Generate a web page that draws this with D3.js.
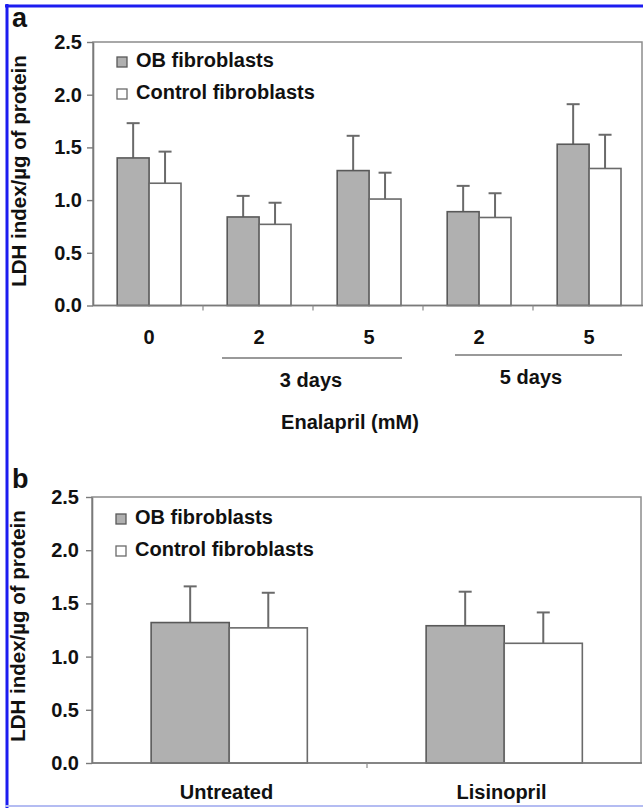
<!DOCTYPE html>
<html>
<head>
<meta charset="utf-8">
<script src="https://cdn.jsdelivr.net/npm/d3@7"></script>
<style>
  body { margin: 0; background: #fff; }
  text { font-family: "Liberation Sans", Arial, sans-serif; font-weight: bold; fill: #111; }
</style>
</head>
<body>
<div id="chart"></div>
<script>
// Data
const seriesNames = ["OB fibroblasts", "Control fibroblasts"];
const yTicks = [0, 0.5, 1.0, 1.5, 2.0, 2.5];

// panel a: enalapril dose (mM)
const enalaprilDoses = ["0", "2", "5", "2", "5"];
const enalaprilOB = [1.40, 0.84, 1.28, 0.89, 1.53];
const enalaprilOBErr = [0.33, 0.20, 0.33, 0.245, 0.38];
const enalaprilCtrl = [1.16, 0.77, 1.01, 0.835, 1.30];
const enalaprilCtrlErr = [0.30, 0.205, 0.25, 0.23, 0.32];
const dayGroups = ["3 days", "5 days"];
const dayGroupMembers = [[1, 2], [3, 4]];

// panel b: lisinopril
const treatments = ["Untreated", "Lisinopril"];
const lisinoprilOB = [1.32, 1.29];
const lisinoprilOBErr = [0.34, 0.32];
const lisinoprilCtrl = [1.27, 1.125];
const lisinoprilCtrlErr = [0.33, 0.29];

const width = 643, height = 808;
const fills = ["#b0b0b0", "#ffffff"];
const strokes = ["#595959", "#6a6a6a"];

const svg = d3.select("#chart").append("svg")
    .attr("width", width)
    .attr("height", height);

// blue frame round the figure
svg.append("line").attr("x1", 7).attr("x2", 7).attr("y1", 4).attr("y2", 808)
    .attr("stroke", "#1c1cf0").attr("stroke-width", 3);
svg.append("line").attr("x1", 5).attr("x2", 643).attr("y1", 6).attr("y2", 6)
    .attr("stroke", "#1c1cf0").attr("stroke-width", 3);
svg.append("line").attr("x1", 5).attr("x2", 643).attr("y1", 806).attr("y2", 806)
    .attr("stroke", "#b4bcf2").attr("stroke-width", 2);

function drawPanel(cfg) {
    const g = svg.append("g");

    const x = d3.scaleBand()
        .domain(d3.range(cfg.categories.length))
        .range([cfg.left, cfg.right]);

    const x1 = d3.scaleBand()
        .domain([0, 1])
        .range([x.bandwidth() * cfg.barStart, x.bandwidth() * cfg.barEnd]);

    const y = d3.scaleLinear()
        .domain([0, 2.5])
        .range([cfg.bottom, cfg.top]);

    // plot area border
    g.append("rect")
        .attr("x", cfg.left).attr("y", cfg.top)
        .attr("width", cfg.right - 1 - cfg.left).attr("height", cfg.bottom - cfg.top)
        .attr("fill", "none").attr("stroke", "#8c8c8c").attr("stroke-width", 1.5);

    const rows = cfg.categories.map((c, i) => ({
        i: i,
        values: [
            { s: 0, v: cfg.ob[i], e: cfg.obErr[i] },
            { s: 1, v: cfg.ctrl[i], e: cfg.ctrlErr[i] }
        ]
    }));

    const groups = g.selectAll("g.cat")
        .data(rows)
        .enter().append("g")
        .attr("class", "cat")
        .attr("transform", d => `translate(${x(d.i)},0)`);

    // error bars (upper only)
    groups.selectAll("g.err")
        .data(d => d.values)
        .enter().append("g")
        .attr("class", "err")
        .each(function(d) {
            const cx = x1(d.s) + x1.bandwidth() / 2;
            const sel = d3.select(this);
            sel.append("line")
                .attr("x1", cx).attr("x2", cx)
                .attr("y1", y(d.v)).attr("y2", y(d.v + d.e))
                .attr("stroke", "#6a6a6a").attr("stroke-width", 2);
            sel.append("line")
                .attr("x1", cx - 6.5).attr("x2", cx + 6.5)
                .attr("y1", y(d.v + d.e)).attr("y2", y(d.v + d.e))
                .attr("stroke", "#6a6a6a").attr("stroke-width", 2);
        });

    groups.selectAll("rect")
        .data(d => d.values)
        .enter().append("rect")
        .attr("x", d => x1(d.s))
        .attr("y", d => y(d.v))
        .attr("width", x1.bandwidth())
        .attr("height", d => y(0) - y(d.v))
        .attr("fill", d => fills[d.s])
        .attr("stroke", d => strokes[d.s])
        .attr("stroke-width", 1.6);

    // y axis
    const yAxis = g.append("g")
        .attr("transform", `translate(${cfg.left},0)`)
        .call(d3.axisLeft(y).tickValues(yTicks).tickFormat(d3.format(".1f"))
            .tickSize(6).tickSizeOuter(0).tickPadding(cfg.tickPad));
    yAxis.select(".domain").attr("stroke", "#7a7a7a").attr("stroke-width", 1.6);
    yAxis.selectAll(".tick line").attr("stroke", "#7a7a7a").attr("stroke-width", 1.4);
    yAxis.selectAll(".tick text")
        .attr("font-size", "20px").attr("font-family", null).attr("fill", "#111");

    // x axis line and separator ticks
    g.append("line")
        .attr("x1", cfg.left).attr("x2", cfg.right)
        .attr("y1", y(0)).attr("y2", y(0))
        .attr("stroke", "#7a7a7a").attr("stroke-width", 1.6);
    g.selectAll("line.sep")
        .data(d3.range(1, cfg.categories.length))
        .enter().append("line")
        .attr("class", "sep")
        .attr("x1", d => x(d)).attr("x2", d => x(d))
        .attr("y1", y(0)).attr("y2", y(0) + 5)
        .attr("stroke", "#8a8a8a").attr("stroke-width", 1.2);

    // category labels
    g.selectAll("text.cat")
        .data(cfg.categories)
        .enter().append("text")
        .attr("class", "cat")
        .attr("x", (d, i) => x(i) + x.bandwidth() / 2 + cfg.labelShift)
        .attr("y", cfg.bottom + cfg.labelDy)
        .attr("text-anchor", "middle")
        .attr("font-size", "20px")
        .text(d => d);

    // legend
    const legend = g.append("g");
    seriesNames.forEach((name, i) => {
        const by = cfg.top + cfg.legendY[i];
        legend.append("rect")
            .attr("x", cfg.left + 24).attr("y", by - 10)
            .attr("width", 10).attr("height", 10)
            .attr("fill", fills[i]).attr("stroke", strokes[i]).attr("stroke-width", 1.3);
        legend.append("text")
            .attr("x", cfg.left + 43).attr("y", by)
            .attr("font-size", "20px")
            .text(name);
    });

    // y axis title
    g.append("text")
        .attr("transform", `translate(${cfg.titleX},${cfg.titleY}) rotate(-90)`)
        .attr("text-anchor", "middle")
        .attr("font-size", "20.5px")
        .text("LDH index/\u00b5g of protein");

    // panel letter
    g.append("text")
        .attr("x", 12).attr("y", cfg.letterY)
        .attr("font-size", "27px")
        .text(cfg.letter);

    return x;
}

// panel a
const xa = drawPanel({
    letter: "a", letterY: 27,
    categories: enalaprilDoses,
    ob: enalaprilOB, obErr: enalaprilOBErr,
    ctrl: enalaprilCtrl, ctrlErr: enalaprilCtrlErr,
    left: 93, right: 643, top: 42, bottom: 305.5,
    barStart: 0.22, barEnd: 0.80, tickPad: 5,
    labelDy: 38, labelShift: 1,
    legendY: [25, 57],
    titleX: 26, titleY: 171
});

// day-group brackets under the enalapril doses
const bracketInset = [[19, -21], [32, -21]];
const bracketY = [358, 355];
dayGroups.forEach((label, k) => {
    const [a, b] = dayGroupMembers[k];
    const x1 = xa(a) + bracketInset[k][0];
    const x2 = xa(b) + xa.bandwidth() + bracketInset[k][1];
    svg.append("line")
        .attr("x1", x1).attr("x2", x2)
        .attr("y1", bracketY[k]).attr("y2", bracketY[k])
        .attr("stroke", "#777").attr("stroke-width", 1.6);
    svg.append("text")
        .attr("x", (xa(a) + xa(b) + xa.bandwidth()) / 2 - 2)
        .attr("y", bracketY[k] + 29)
        .attr("text-anchor", "middle")
        .attr("font-size", "20px")
        .text(label);
});

svg.append("text")
    .attr("x", 350).attr("y", 429)
    .attr("text-anchor", "middle")
    .attr("font-size", "20px")
    .text("Enalapril (mM)");

// panel b
drawPanel({
    letter: "b", letterY: 488,
    categories: treatments,
    ob: lisinoprilOB, obErr: lisinoprilOBErr,
    ctrl: lisinoprilCtrl, ctrlErr: lisinoprilCtrlErr,
    left: 92, right: 642, top: 497, bottom: 763,
    barStart: 0.215, barEnd: 0.783, tickPad: 7,
    labelDy: 36, labelShift: -3,
    legendY: [27, 59],
    titleX: 25, titleY: 626
});
</script>
</body>
</html>
